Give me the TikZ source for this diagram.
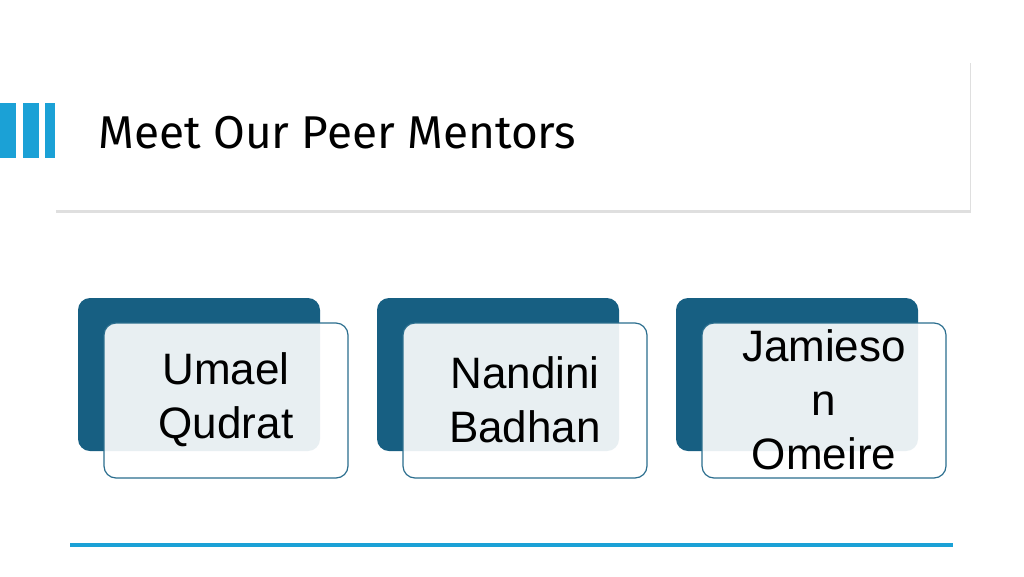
\documentclass[tikz,border=0pt]{standalone}
\usepackage{fontspec}
\setmainfont{Liberation Sans}
\newfontfamily\titlefont{Fira Sans}
\definecolor{barblue}{HTML}{1BA1D6}
\definecolor{darkcard}{HTML}{175F82}
\definecolor{cardline}{HTML}{2B6E8E}
\usetikzlibrary{shadows}
\begin{document}
\begin{tikzpicture}[x=1pt,y=-1pt,
  backcard/.style={fill=darkcard,rounded corners=12pt},
  frontcard/.style={draw=cardline,line width=1.2pt,fill=white,fill opacity=0.9,rounded corners=12pt},
  persontext/.style={font=\fontsize{44}{54}\selectfont,align=center,text=black,text opacity=1}]
\useasboundingbox (0,0) rectangle (1024,576);
\fill[white] (0,0) rectangle (1024,576);
\fill[barblue] (0,103) rectangle (16,158);
\fill[barblue] (23,103) rectangle (39,158);
\fill[barblue] (45,103) rectangle (56,158);
\node[draw=none,fill=white,minimum width=915pt,minimum height=150pt,inner sep=0pt,
  drop shadow={shadow xshift=1pt,shadow yshift=-3pt,opacity=0.25}] (titlebox) at (512.5,135) {};
\node[anchor=west,font=\titlefont\fontsize{46}{54}\selectfont] (title) at (95,133) {Meet Our Peer Mentors};
\foreach \i/\dx/\txt in {1/0/{Umael\\Qudrat},2/299/{Nandini\\Badhan},3/598/{Jamieso\\n\\Omeire}}{
  \fill[backcard] (78+\dx,298) rectangle (320+\dx,451);
  \node[frontcard,minimum width=244pt,minimum height=155pt,inner sep=0pt] (card\i) at (226+\dx,400.5) {};
  \node[persontext] (name\i) at (226+\dx,400) {\txt};
}
\draw[barblue,line width=3.5pt] (70,545) coordinate (l1) -- (953,545) coordinate (l2);
\end{tikzpicture}
\end{document}
